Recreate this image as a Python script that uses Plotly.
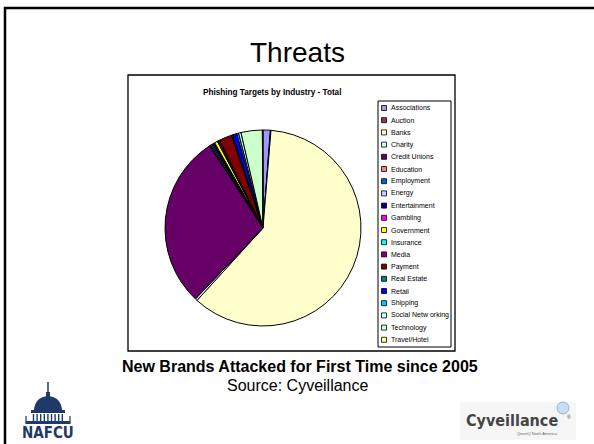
import plotly.graph_objects as go

W, H = 594, 444

categories = ["Associations", "Auction", "Banks", "Charity", "Credit Unions", "Education",
              "Employment", "Energy", "Entertainment", "Gambling", "Government", "Insurance",
              "Media", "Payment", "Real Estate", "Retail", "Shipping", "Social Networking",
              "Technology", "Travel/Hotel"]
shares = [1.2, 0.1, 60.4, 0.35, 28.7, 0.15, 0.25, 0.15, 0.3, 0.1, 0.5, 0.15,
          0.25, 2.1, 0.2, 0.7, 0.3, 0.4, 3.5, 0.1]
legend_labels = ["Associations", "Auction", "Banks", "Charity", "Credit Unions", "Education",
                 "Employment", "Energy", "Entertainment", "Gambling", "Government", "Insurance",
                 "Media", "Payment", "Real Estate", "Retail", "Shipping", "Social Netw orking",
                 "Technology", "Travel/Hotel"]
colors = ["#9999FF", "#993366", "#FFFFCC", "#CCFFFF", "#660066", "#FF8080", "#0066CC",
          "#CCCCFF", "#000080", "#FF00FF", "#FFFF00", "#00FFFF", "#800080", "#800000",
          "#008080", "#0000FF", "#00CCFF", "#CCFFFF", "#CCFFCC", "#FFFF99"]

slide_title = "Threats"
chart_title = "Phishing Targets by Industry - Total"
caption = "New Brands Attacked for First Time since 2005"
source = "Source: Cyveillance"


def px(x):
    return x / W


def py(y):
    return 1 - y / H


FONT = "Liberation Sans, Arial, sans-serif"

fig = go.Figure()
fig.add_trace(go.Pie(
    labels=categories, values=shares, sort=False, direction="clockwise", rotation=0,
    marker=dict(colors=colors, line=dict(color="black", width=1)),
    textinfo="none", hoverinfo="label+percent", showlegend=False,
    domain=dict(x=[px(165), px(361)], y=[py(326), py(130)]),
))

shapes = []
annotations = []

# slide border
shapes.append(dict(type="rect", xref="paper", yref="paper",
                   x0=px(5), x1=px(620), y0=py(470), y1=py(8),
                   line=dict(color="black", width=2.5), fillcolor="rgba(0,0,0,0)", layer="below"))
# chart box
shapes.append(dict(type="rect", xref="paper", yref="paper",
                   x0=px(128), x1=px(455), y0=py(351), y1=py(75),
                   line=dict(color="black", width=1.3), fillcolor="white", layer="below"))
# legend box
shapes.append(dict(type="rect", xref="paper", yref="paper",
                   x0=px(378), x1=px(451), y0=py(347), y1=py(101),
                   line=dict(color="black", width=1), fillcolor="white", layer="below"))

# legend entries
y0 = 108.0
step = 12.2
for i, (lab, col) in enumerate(zip(legend_labels, colors)):
    yc = y0 + i * step
    shapes.append(dict(type="rect", xref="paper", yref="paper",
                       x0=px(381.5), x1=px(386.5), y0=py(yc + 2.5), y1=py(yc - 2.5),
                       line=dict(color="black", width=0.8), fillcolor=col))
    annotations.append(dict(x=px(389), y=py(yc), xref="paper", yref="paper",
                            text=lab, showarrow=False, xanchor="left", yanchor="middle",
                            font=dict(family=FONT, size=7, color="black")))

annotations.append(dict(x=px(297), y=py(52), xref="paper", yref="paper", text=slide_title,
                        showarrow=False, xanchor="center", yanchor="middle",
                        font=dict(family=FONT, size=28, color="black")))
annotations.append(dict(x=px(272), y=py(92), xref="paper", yref="paper",
                        text="<b>" + chart_title + "</b>",
                        showarrow=False, xanchor="center", yanchor="middle",
                        font=dict(family=FONT, size=8.2, color="black")))
annotations.append(dict(x=px(300), y=py(366), xref="paper", yref="paper",
                        text="<b>" + caption + "</b>",
                        showarrow=False, xanchor="center", yanchor="middle",
                        font=dict(family=FONT, size=16, color="black")))
annotations.append(dict(x=px(298), y=py(385), xref="paper", yref="paper", text=source,
                        showarrow=False, xanchor="center", yanchor="middle",
                        font=dict(family=FONT, size=16, color="black")))

# NAFCU logo (simple drawing)
navy = "#1F3A68"
shapes.append(dict(type="line", xref="paper", yref="paper", x0=px(48), x1=px(48),
                   y0=py(398), y1=py(382), line=dict(color=navy, width=1.5)))
shapes.append(dict(type="rect", xref="paper", yref="paper", x0=px(46), x1=px(50),
                   y0=py(401), y1=py(392), line=dict(width=0), fillcolor=navy))
shapes.append(dict(type="path", xref="paper", yref="paper",
                   path=f"M {px(34)},{py(410)} Q {px(35)},{py(397)} {px(48)},{py(396)} "
                        f"Q {px(61)},{py(397)} {px(62)},{py(410)} Z",
                   line=dict(width=0), fillcolor=navy))
shapes.append(dict(type="rect", xref="paper", yref="paper", x0=px(31), x1=px(65),
                   y0=py(413), y1=py(410), line=dict(width=0), fillcolor=navy))
for k in range(9):
    xc = 33.5 + k * 3.6
    shapes.append(dict(type="line", xref="paper", yref="paper", x0=px(xc), x1=px(xc),
                       y0=py(421), y1=py(414), line=dict(color=navy, width=1.4)))
shapes.append(dict(type="rect", xref="paper", yref="paper", x0=px(26), x1=px(70),
                   y0=py(424), y1=py(421), line=dict(width=0), fillcolor=navy))
shapes.append(dict(type="line", xref="paper", yref="paper", x0=px(26), x1=px(26),
                   y0=py(424), y1=py(416), line=dict(color=navy, width=1.2)))
shapes.append(dict(type="line", xref="paper", yref="paper", x0=px(70), x1=px(70),
                   y0=py(424), y1=py(416), line=dict(color=navy, width=1.2)))
annotations.append(dict(x=px(48), y=py(433), xref="paper", yref="paper", text="<b>NAFCU</b>",
                        showarrow=False, xanchor="center", yanchor="middle",
                        font=dict(family="DejaVu Sans Condensed, Liberation Sans Narrow, sans-serif",
                                  size=15, color=navy)))

# Cyveillance logo
shapes.append(dict(type="rect", xref="paper", yref="paper", x0=px(460), x1=px(576),
                   y0=py(440), y1=py(402), line=dict(width=0), fillcolor="#F6F6F6", layer="below"))
shapes.append(dict(type="circle", xref="paper", yref="paper", x0=px(557), x1=px(569),
                   y0=py(414), y1=py(402), line=dict(color="#8FB3D9", width=1), fillcolor="#C9DDF2"))
annotations.append(dict(x=px(512), y=py(420), xref="paper", yref="paper", text="<b>Cyveillance</b>",
                        showarrow=False, xanchor="center", yanchor="middle",
                        font=dict(family="DejaVu Sans Condensed, sans-serif",
                                  size=16, color="#444444")))
annotations.append(dict(x=px(569), y=py(417), xref="paper", yref="paper", text="®",
                        showarrow=False, xanchor="center", yanchor="middle",
                        font=dict(family=FONT, size=5, color="#4A4A4A")))
annotations.append(dict(x=px(537), y=py(433), xref="paper", yref="paper",
                        text="QinetiQ North America",
                        showarrow=False, xanchor="center", yanchor="middle",
                        font=dict(family=FONT, size=4, color="#666666")))

fig.update_layout(
    width=W, height=H, margin=dict(l=0, r=0, t=0, b=0),
    paper_bgcolor="white", plot_bgcolor="white",
    shapes=shapes, annotations=annotations, showlegend=False,
)

fig.write_html("out.html", config={"displayModeBar": False},
               post_script="document.body.style.margin='0px';document.body.style.overflow='hidden';")
